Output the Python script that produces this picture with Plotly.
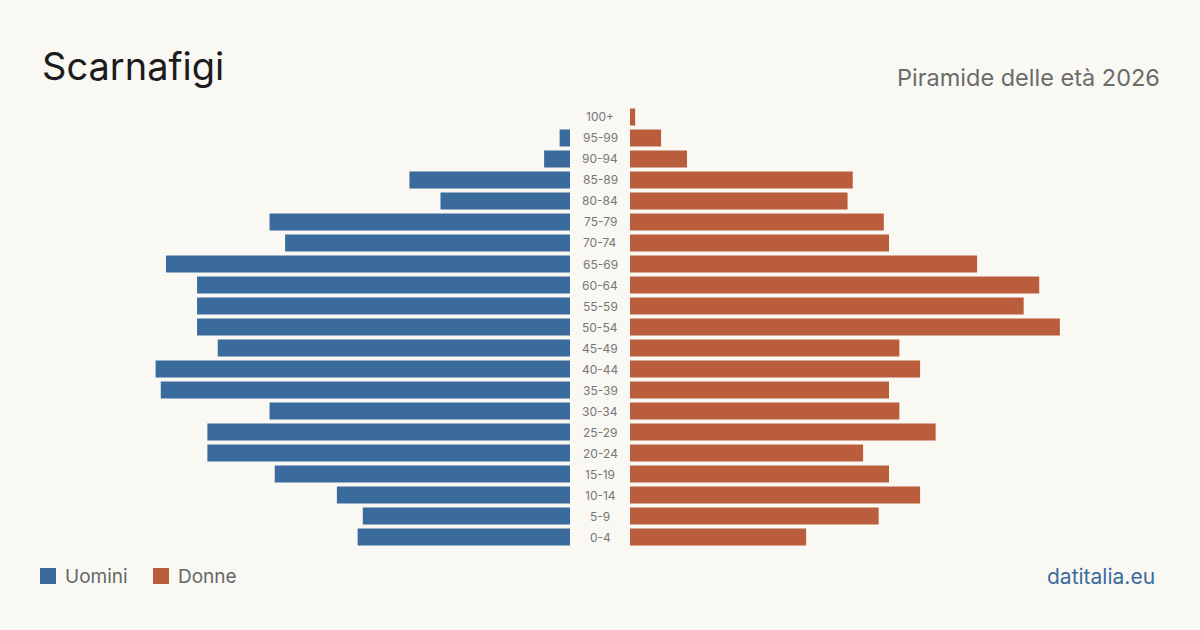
import plotly.graph_objects as go

age_groups = ["0-4", "5-9", "10-14", "15-19", "20-24", "25-29", "30-34", "35-39",
              "40-44", "45-49", "50-54", "55-59", "60-64", "65-69", "70-74",
              "75-79", "80-84", "85-89", "90-94", "95-99", "100+"]
men = [41, 40, 45, 57, 70, 70, 58, 79, 80, 68, 72, 72, 72, 78, 55, 58, 25, 31, 5, 2, 0]
women = [34, 48, 56, 50, 45, 59, 52, 50, 56, 52, 83, 76, 79, 67, 50, 49, 42, 43, 11, 6, 1]

title = "Scarnafigi"
subtitle = "Piramide delle età 2026"
source = "datitalia.eu"
legend_names = ["Uomini", "Donne"]

BLUE = "#3b6b9c"
ORANGE = "#b95d3c"
BG = "#f9f8f3"
FONT = "Inter, 'Noto Sans', sans-serif"

W, H = 1200, 630
vmax = max(max(men), max(women))
px_per_unit = 5.18
half = vmax * px_per_unit

fig = go.Figure()
fig.add_trace(go.Bar(y=age_groups, x=men, orientation="h", marker_color=BLUE,
                     marker_line_width=0,
                     name=legend_names[0], xaxis="x", yaxis="y", showlegend=False,
                     hoverinfo="x+y"))
fig.add_trace(go.Bar(y=age_groups, x=women, orientation="h", marker_color=ORANGE,
                     marker_line_width=0,
                     name=legend_names[1], xaxis="x2", yaxis="y", showlegend=False,
                     hoverinfo="x+y"))

y_top = 106.5
y_bot = 547.5
ydom = [(H - y_bot) / H, (H - y_top) / H]

fig.update_layout(
    width=W, height=H,
    margin=dict(l=0, r=0, t=0, b=0),
    paper_bgcolor=BG, plot_bgcolor=BG,
    bargap=0.2,
    font=dict(family=FONT, color="#666"),
    xaxis=dict(domain=[(570 - half) / W, 570 / W], range=[vmax, 0], visible=False,
               fixedrange=True),
    xaxis2=dict(domain=[630 / W, (630 + half) / W], range=[0, vmax], visible=False,
                fixedrange=True),
    yaxis=dict(domain=ydom, type="category", categoryorder="array",
               categoryarray=age_groups, range=[-0.5, len(age_groups) - 0.5],
               visible=False, fixedrange=True),
)

for a in age_groups:
    fig.add_annotation(x=600 / W, xref="paper", y=a, yref="y", text=a, showarrow=False,
                       font=dict(size=12, color="#777", family=FONT),
                       xanchor="center", yanchor="middle")

fig.add_annotation(x=40 / W, y=1 - 41 / H, xref="paper", yref="paper", text=title,
                   showarrow=False, xanchor="left", yanchor="top",
                   font=dict(size=38, color="#1c1c1c", family=FONT))
fig.add_annotation(x=1162 / W, y=1 - 61 / H, xref="paper", yref="paper", text=subtitle,
                   showarrow=False, xanchor="right", yanchor="top",
                   font=dict(size=23.5, color="#6b6b6b", family=FONT))
fig.add_annotation(x=1157 / W, y=1 - 576 / H, xref="paper", yref="paper", text=source,
                   showarrow=False, xanchor="right", yanchor="middle",
                   font=dict(size=21, color="#3b6b9c", family=FONT))

# legend
legend_items = [(40, BLUE, legend_names[0]), (153, ORANGE, legend_names[1])]
for lx, col, name in legend_items:
    fig.add_shape(type="rect", xref="paper", yref="paper",
                  x0=lx / W, x1=(lx + 16) / W, y0=1 - 584 / H, y1=1 - 568 / H,
                  fillcolor=col, line=dict(width=0))
    fig.add_annotation(x=(lx + 23) / W, y=1 - 576 / H, xref="paper", yref="paper",
                       text=name, showarrow=False, xanchor="left", yanchor="middle",
                       font=dict(size=19, color="#666", family=FONT))

fig.write_html("out.html", config={"displayModeBar": False})
